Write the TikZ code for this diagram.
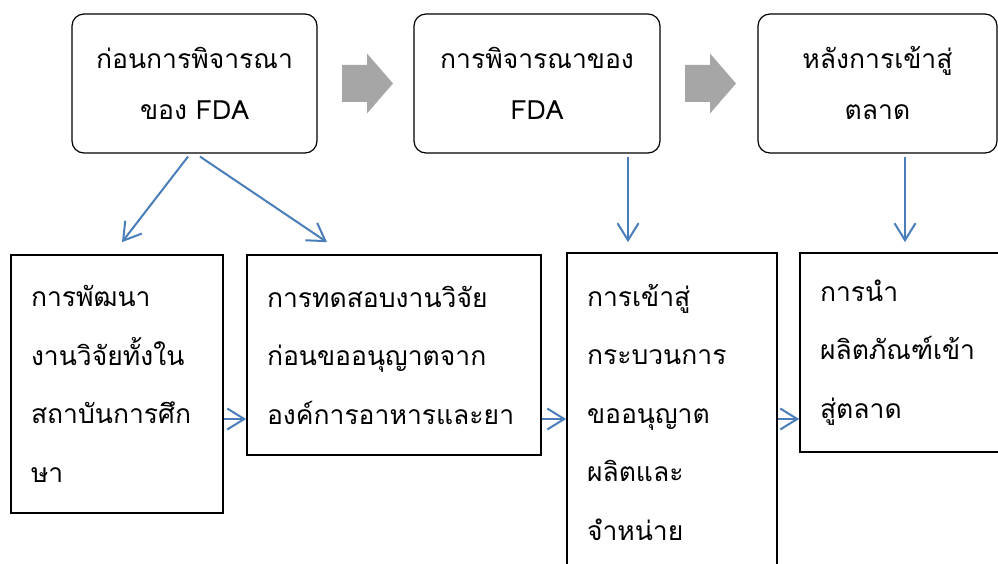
\documentclass[tikz,border=0pt]{standalone}
\usepackage{fontspec}
\newfontfamily\thaifont[Script=Thai]{Loma}
\usetikzlibrary{arrows.meta}
\definecolor{linkblue}{RGB}{74,126,187}
\definecolor{stepgray}{RGB}{166,166,166}
\begin{document}
\begin{tikzpicture}[x=1pt,y=-1pt,
  phase/.style={draw=black,line width=1.2pt,rounded corners=12pt,align=center,
    inner sep=0pt,minimum height=139pt,
    font={\thaifont\fontsize{26.5pt}{51pt}\selectfont}},
  task/.style={draw=black,line width=1.7pt,align=left,inner xsep=20pt,inner ysep=0pt,
    font={\thaifont\fontsize{26.5pt}{58.5pt}\selectfont}},
  link/.style={draw=linkblue,line width=2pt,-{Straight Barb[length=17pt,width=21pt]}},
  stepgo/.style={fill=stepgray}]
\useasboundingbox (0,0) rectangle (998,564);

% phases along the top
\node[phase,minimum width=245pt] (T1) at (194.5,83.5) {ก่อนการพิจารณา\\ของ FDA};
\node[phase,minimum width=246pt] (T2) at (537,83.5) {การพิจารณาของ\\FDA};
\node[phase,minimum width=239pt] (T3) at (877.5,83.5) {หลังการเข้าสู่\\ตลาด};

% grey block arrows between phases
\coordinate (g1) at (342,83.5);
\coordinate (g2) at (685,83.5);
\foreach \g in {g1,g2}
  \fill[stepgo] (\g) ++(0,-18.5) -- ++(25,0) -- ++(0,-11.5) -- ++(26,30)
    -- ++(-26,30) -- ++(0,-11.5) -- ++(-25,0) -- cycle;

% steps along the bottom
\node[task,text width=172pt,minimum height=258pt] (B1) at (117,384)
  {การพัฒนา\\งานวิจัยทั้งใน\\สถาบันการศึก\\ษา};
\node[task,text width=254pt,minimum height=200pt] (B2) at (394,355)
  {การทดสอบงานวิจัย\\ก่อนขออนุญาตจาก\\องค์การอาหารและยา};
\node[task,text width=170pt,minimum height=319pt] (B3) at (672,412.5)
  {การเข้าสู่\\กระบวนการ\\ขออนุญาต\\ผลิตและ\\จำหน่าย};
\node[task,text width=162pt,minimum height=199pt] (B4) at (901,352.5)
  {การนำ\\ผลิตภัณฑ์เข้า\\สู่ตลาด};

% links from phases to steps
\draw[link] ([xshift=-6.5pt,yshift=-3pt]T1.south) -- ([xshift=5pt,yshift=12pt]B1.north);
\draw[link] ([xshift=5.5pt,yshift=-3pt]T1.south) -- ([xshift=-67pt,yshift=12pt]B2.north);
\draw[link] ([xshift=91pt,yshift=-3pt]T2.south) -- ([xshift=-44pt,yshift=10pt]B3.north);
\draw[link] ([xshift=27.5pt,yshift=-3pt]T3.south) -- ([xshift=4pt,yshift=10pt]B4.north);

% links between steps
\coordinate (hrow) at (0,419);
\draw[link] (B1.east |- hrow) -- (B2.west |- hrow);
\draw[link] (B2.east |- hrow) -- (B3.west |- hrow);
\draw[link] (B3.east |- hrow) -- (B4.west |- hrow);
\end{tikzpicture}
\end{document}
